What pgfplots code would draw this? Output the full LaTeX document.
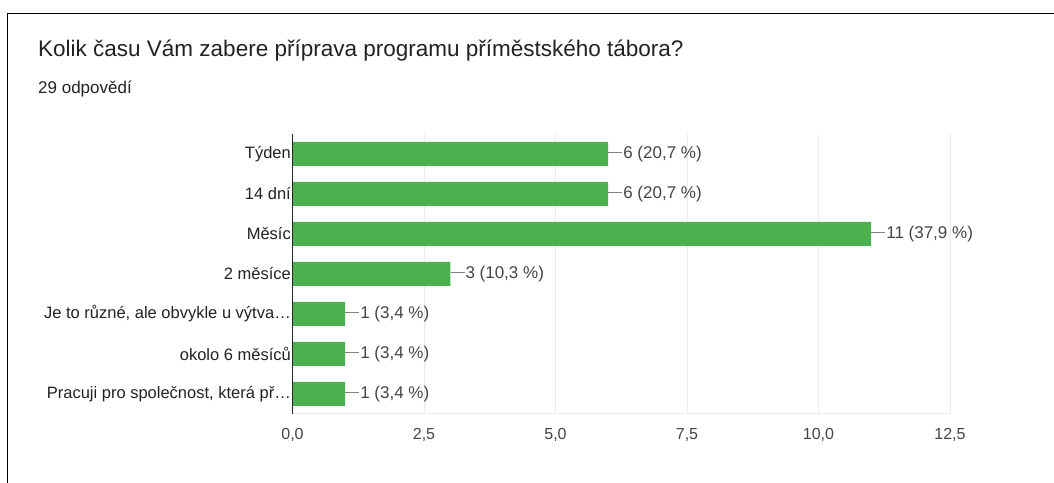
\documentclass[border=0pt]{standalone}
\usepackage{pgfplots}
\pgfplotsset{compat=1.18}
\usepackage{fontspec}
\setmainfont{Liberation Sans}
\definecolor{bargreen}{HTML}{4CAF50}
\definecolor{gridgray}{HTML}{EBEBEB}
\definecolor{txt}{HTML}{222222}
\definecolor{ticktxt}{HTML}{444444}
\begin{document}
\begin{tikzpicture}[x=1bp,y=1bp]
\fill[white] (0,0) rectangle (1054,483);
\draw[black, line width=1.3bp] (7.3,0) -- (7.3,469.7) -- (1054,469.7);
\node[anchor=base west, inner sep=0, text=txt, font=\fontsize{22.5bp}{26bp}\selectfont] at (38,426) {Kolik času Vám zabere příprava programu příměstského tábora?};
\node[anchor=base west, inner sep=0, text=txt, font=\fontsize{17bp}{20bp}\selectfont] at (38,389) {29 odpovědí};
\begin{axis}[
  at={(292.5bp,69bp)}, anchor=south west,
  width=657.5bp, height=280bp, scale only axis,
  xmin=0, xmax=12.5, ymin=-0.5, ymax=6.5, y dir=reverse,
  xbar, bar width=24bp,
  axis line style={draw=none},
  xmajorgrids, grid style={gridgray, line width=1bp},
  xtick={0,2.5,5,7.5,10,12.5},
  xticklabels={{0,0},{2,5},{5,0},{7,5},{10,0},{12,5}},
  ytick={0,1,2,3,4,5,6},
  yticklabels={Týden,14 dní,Měsíc,2 měsíce,{Je to různé, ale obvykle u výtva…},okolo 6 měsíců,{Pracuji pro společnost, která př…}},
  major tick length=0,
  xticklabel style={text=ticktxt, font=\fontsize{16bp}{19bp}\selectfont, yshift=-11bp},
  yticklabel style={text=txt, font=\fontsize{16.5bp}{19bp}\selectfont, inner sep=1.5bp},
  point meta=explicit symbolic,
  nodes near coords={\textcolor{gray}{\rule[0.3em]{14bp}{0.8bp}}\hspace{1bp}\pgfplotspointmeta},
  nodes near coords style={anchor=west, inner xsep=0, text=ticktxt, font=\fontsize{17bp}{20bp}\selectfont},
  clip=false,
]
\addplot[draw=none, fill=bargreen] coordinates {
  (6,0) [6 (20,7 \%)]
  (6,1) [6 (20,7 \%)]
  (11,2) [11 (37,9 \%)]
  (3,3) [3 (10,3 \%)]
  (1,4) [1 (3,4 \%)]
  (1,5) [1 (3,4 \%)]
  (1,6) [1 (3,4 \%)]
};
\draw[gridgray, line width=1bp] (axis cs:0,6.5) -- (axis cs:12.5,6.5);
\draw[black!85, line width=1.2bp] (axis cs:0,-0.5) -- (axis cs:0,6.5);
\end{axis}
\pgfresetboundingbox
\path[use as bounding box] (0,0) rectangle (1054,483);
\end{tikzpicture}
\end{document}
